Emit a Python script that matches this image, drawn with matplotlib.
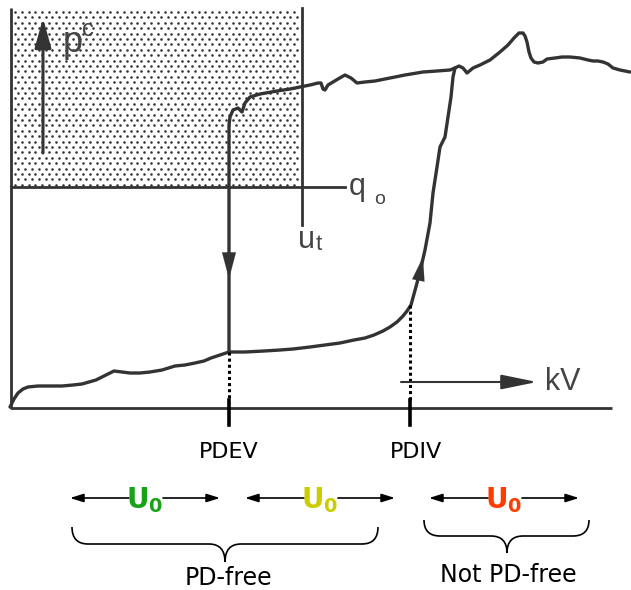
import numpy as np
import matplotlib.pyplot as plt
from matplotlib.patches import PathPatch
from matplotlib.path import Path

# traced curves (x, y in drawing units, y grows downward)
rise_x = [10, 14, 18, 23, 28, 38, 49, 62, 73, 82, 89, 96, 102, 108, 114, 122, 130, 140, 150,
          162, 175, 185, 195, 204, 211, 220, 229,
          245, 264, 280, 293, 310, 325, 340, 354, 365, 374, 383, 390, 397, 403, 407, 411,
          417, 422, 425, 430, 433, 437, 440, 445, 448, 451, 453, 455]
rise_y = [407, 399, 393, 389, 387, 386, 386, 386, 385, 384, 382, 380, 377, 374, 371, 372, 373,
          373, 372, 370, 366, 365, 363, 361, 358, 355, 352,
          352, 351, 350, 349, 347, 345, 343, 340, 338, 335, 331, 327, 322, 316, 311, 305,
          283, 263, 250, 223, 193, 167, 147, 137, 117, 97, 77, 68]

fall_x = [229, 229, 230, 233, 238, 242, 245, 250, 260, 277, 290, 300, 310, 318, 321, 323,
          325, 328, 333, 338, 345, 351, 357, 365, 375,
          390, 405, 423, 437, 450, 455, 459, 463, 467, 473, 480, 490, 500, 508, 514, 519,
          523, 525, 527, 529, 531, 534, 538, 543, 547, 555, 562, 570, 580, 588, 593, 598,
          603, 608, 613, 620, 630]
fall_y = [352, 125, 117, 110, 108, 112, 103, 97, 94, 91, 89, 87, 85, 83, 83, 89,
          90, 85, 82, 79, 75, 78, 83, 82, 81,
          78, 75, 72, 71, 70, 68, 66, 68, 73, 68, 65, 60, 52, 45, 38, 33,
          33, 36, 42, 52, 58, 62, 63, 62, 59, 58, 57, 57, 58, 60, 61, 61,
          62, 64, 68, 70, 72]

pdev_x = 229
pdiv_x = 410
pdiv_y = 305
u0_centers = [145, 320, 504]
u0_colors = ['#17a217', '#cccc00', '#ff3c00']
state_labels = ['PD-free', 'Not PD-free']

line_col = '#333333'

fig = plt.figure(figsize=(6.31, 5.90), dpi=100)
ax = fig.add_axes([0, 0, 1, 1])
ax.set_xlim(0, 631)
ax.set_ylim(590, 0)
ax.axis('off')

# stippled region above the threshold (staggered dot screen)
dots_x, dots_y = [], []
for i, yy in enumerate(np.arange(12, 186, 5.4)):
    xs = np.arange(15 + (3.4 if i % 2 else 0), 300, 6.8)
    dots_x.extend(xs)
    dots_y.extend([yy] * len(xs))
ax.scatter(dots_x, dots_y, s=3.4, color='#333333', linewidths=0, zorder=1)

# frame lines
ax.plot([11, 11, 612], [8, 408, 408], color=line_col, lw=2.0, solid_capstyle='butt')
ax.plot([302, 302], [8, 225], color=line_col, lw=2.0)
ax.plot([11, 345], [187, 187], color=line_col, lw=2.0)

# curves
ax.plot(rise_x, rise_y, color=line_col, lw=2.4, solid_joinstyle='round', solid_capstyle='round')
ax.plot(fall_x, fall_y, color=line_col, lw=2.4, solid_joinstyle='round', solid_capstyle='round')

# direction heads on the curves
ax.annotate('', xy=(229, 279), xytext=(229, 252),
            arrowprops=dict(arrowstyle='-|>,head_length=1.9,head_width=0.5',
                            color=line_col, lw=0.1, shrinkA=0, shrinkB=0))
ax.annotate('', xy=(423, 257), xytext=(418, 282),
            arrowprops=dict(arrowstyle='-|>,head_length=1.7,head_width=0.45',
                            color=line_col, lw=0.1, shrinkA=0, shrinkB=0))

# p^c axis arrow
ax.annotate('', xy=(43, 18), xytext=(43, 153),
            arrowprops=dict(arrowstyle='-|>,head_length=1.8,head_width=0.5',
                            color=line_col, lw=2.2, shrinkA=0, shrinkB=0))
# kV arrow
ax.annotate('', xy=(537, 382), xytext=(401, 382),
            arrowprops=dict(arrowstyle='-|>,head_length=2.2,head_width=0.45',
                            color=line_col, lw=1.5, shrinkA=0, shrinkB=0))

lab = dict(color='#444444', family='Liberation Sans')
ax.text(63, 52, 'p', fontsize=26, ha='left', va='baseline', **lab)
ax.text(82, 36, 'c', fontsize=17, ha='left', va='baseline', **lab)
ax.text(349, 195, 'q', fontsize=22, ha='left', va='baseline', **lab)
ax.text(374, 204, 'o', fontsize=14, ha='left', va='baseline', **lab)
ax.text(298, 248, 'u', fontsize=22, ha='left', va='baseline', **lab)
ax.text(316, 250, 't', fontsize=16, ha='left', va='baseline', **lab)
ax.text(545, 390, 'kV', fontsize=22, ha='left', va='baseline', **lab)

# dotted drops and ticks at PDEV / PDIV
for x, y0 in [(pdev_x, 352), (pdiv_x, pdiv_y)]:
    ax.plot([x, x], [y0, 400], color='black', lw=2.2, linestyle=(0, (1, 1)))
    ax.plot([x, x], [400, 425], color='black', lw=2.6)
ax.text(pdev_x, 452, 'PDEV', fontsize=16, ha='center', va='center', family='DejaVu Sans')
ax.text(pdiv_x + 6, 452, 'PDIV', fontsize=16, ha='center', va='center', family='DejaVu Sans')

# U0 ranges
plt.rcParams['mathtext.fontset'] = 'dejavusans'
for xc, col in zip(u0_centers, u0_colors):
    ax.annotate('', xy=(xc - 75, 498), xytext=(xc - 16, 498),
                arrowprops=dict(arrowstyle='-|>,head_length=0.8,head_width=0.25',
                                color='black', lw=1.2, shrinkA=0, shrinkB=0))
    ax.annotate('', xy=(xc + 75, 498), xytext=(xc + 18, 498),
                arrowprops=dict(arrowstyle='-|>,head_length=0.8,head_width=0.25',
                                color='black', lw=1.2, shrinkA=0, shrinkB=0))
    ax.text(xc, 500, r'$\mathbf{U_0}$', fontsize=20, color=col, ha='center', va='center')


def brace(x0, x1, xc, y_top, y_flat, y_tip, r=16):
    verts = [(x0, y_top), (x0, y_flat), (x0 + r, y_flat),
             (xc - r, y_flat), (xc, y_flat), (xc, y_tip),
             (xc, y_flat), (xc + r, y_flat),
             (x1 - r, y_flat), (x1, y_flat), (x1, y_top)]
    codes = [Path.MOVETO, Path.CURVE3, Path.CURVE3,
             Path.LINETO, Path.CURVE3, Path.CURVE3,
             Path.CURVE3, Path.CURVE3,
             Path.LINETO, Path.CURVE3, Path.CURVE3]
    ax.add_patch(PathPatch(Path(verts, codes), fill=False, edgecolor='black', lw=1.2))


brace(72, 378, 225, 527, 544, 562)
brace(424, 589, 507, 520, 536, 553)

ax.text(228, 578, state_labels[0], fontsize=17, ha='center', va='center', family='DejaVu Sans')
ax.text(508, 575, state_labels[1], fontsize=17, ha='center', va='center', family='DejaVu Sans')

fig.savefig('out.png', dpi=100)
